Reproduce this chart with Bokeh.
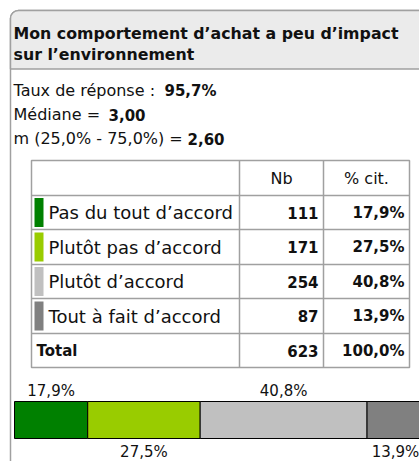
from bokeh.plotting import figure
from bokeh.models import Range1d, ColumnDataSource
from bokeh.core.properties import value
from bokeh.embed import file_html
from bokeh.resources import INLINE

# ---- data ----
title_lines = ["Mon comportement d\u2019achat a peu d\u2019impact", "sur l\u2019environnement"]
stats_labels = ["Taux de r\u00e9ponse :", "M\u00e9diane =", "m (25,0% - 75,0%) ="]
stats_values = ["95,7%", "3,00", "2,60"]
categories = ["Pas du tout d\u2019accord", "Plut\u00f4t pas d\u2019accord", "Plut\u00f4t d\u2019accord", "Tout \u00e0 fait d\u2019accord"]
counts = [111, 171, 254, 87]
percents = [17.9, 27.5, 40.8, 13.9]
colors = ["#008000", "#99cc00", "#c0c0c0", "#808080"]
total_count = 623
total_pct = 100.0
header = ["Nb", "% cit."]

FONT = "DejaVu Sans"
W, H = 419, 461
TXT = "#111111"

def fr(x, d=1):
    return f"{x:.{d}f}".replace(".", ",")

p = figure(width=W, height=H, output_backend="svg", toolbar_location=None,
           x_range=Range1d(0, W), y_range=Range1d(H, 0),
           min_border=0, outline_line_color=None, border_fill_color="white")
p.axis.visible = False
p.grid.visible = False

# percent scale for the stacked bar: 0% -> x=14, 100% -> x=423
px_per_pct = 4.09
p.extra_x_ranges = {"pct": Range1d(-14 / px_per_pct, (W - 14) / px_per_pct)}

# outer box
p.quad(left=10, right=450, top=10, bottom=475, fill_color="white",
       line_color="#a0a0a0", line_width=1.5, border_radius=8)
# title band
p.quad(left=10, right=450, top=10, bottom=68.5, fill_color="#ebebeb",
       line_color="#a0a0a0", line_width=1.5, border_radius=(8, 8, 0, 0))

# title
p.text(x=[13, 13], y=[33, 54], text=title_lines, text_font=value(FONT),
       text_font_style="bold", text_font_size="15.8px", text_baseline="middle",
       text_color="#111111")

# stats
ys = [90, 114, 138]
p.text(x=[13] * 3, y=ys, text=stats_labels, text_font=value(FONT),
       text_font_size="16px", text_baseline="middle", text_color=TXT)
val_x = [164, 108, 187]
p.text(x=val_x, y=ys, text=stats_values, text_font=value(FONT),
       text_font_style="bold", text_font_size="15px", text_baseline="middle",
       text_color=TXT)

# table
col_x = [31, 239, 323, 409]
row_y = [160, 195, 229, 264, 298, 333, 367]
grid = "#a0a0a0"
p.quad(left=col_x[0], right=col_x[-1], top=row_y[0], bottom=row_y[-1],
       fill_color="white", line_color=grid, line_width=1.5)
p.segment(x0=[col_x[0]] * 5, x1=[col_x[-1]] * 5, y0=row_y[1:6], y1=row_y[1:6],
          line_color=grid, line_width=1.5)
p.segment(x0=col_x[1:3], x1=col_x[1:3], y0=[row_y[0]] * 2, y1=[row_y[-1]] * 2,
          line_color=grid, line_width=1.5)

centers = [(row_y[i] + row_y[i + 1]) / 2 for i in range(6)]
p.text(x=[(col_x[1] + col_x[2]) / 2, (col_x[2] + col_x[3]) / 2], y=[centers[0]] * 2,
       text=header, text_font=value(FONT), text_font_size="16px",
       text_align="center", text_baseline="middle", text_color=TXT)

rc = centers[1:5]
p.quad(left=[34] * 4, right=[43] * 4, top=[c - 14.5 for c in rc], bottom=[c + 14.5 for c in rc],
       fill_color=colors, line_color=None)
p.text(x=[48] * 4, y=rc, text=categories, text_font=value(FONT), text_font_size="18px",
       text_baseline="middle", text_color=TXT)
p.text(x=[318] * 4, y=rc, text=[str(c) for c in counts], text_font=value(FONT),
       text_font_style="bold", text_font_size="15px", text_align="right",
       text_baseline="middle", text_color=TXT)
p.text(x=[404] * 4, y=rc, text=[fr(v) + "%" for v in percents], text_font=value(FONT),
       text_font_style="bold", text_font_size="15px", text_align="right",
       text_baseline="middle", text_color=TXT)
p.text(x=[36], y=[centers[5]], text=["Total"], text_font=value(FONT),
       text_font_style="bold", text_font_size="15px", text_baseline="middle", text_color=TXT)
p.text(x=[318, 404], y=[centers[5]] * 2, text=[str(total_count), fr(total_pct) + "%"],
       text_font=value(FONT), text_font_style="bold", text_font_size="15px",
       text_align="right", text_baseline="middle", text_color=TXT)

# stacked bar
lefts, rights = [], []
acc = 0.0
for v in percents:
    lefts.append(acc)
    acc += v
    rights.append(acc)
src = ColumnDataSource(dict(left=lefts, right=rights, color=colors,
                            mid=[(l + r) / 2 for l, r in zip(lefts, rights)],
                            lab=[fr(v) + "%" for v in percents],
                            ly=[390, 451, 390, 451]))
p.quad(left="left", right="right", top=401, bottom=438, fill_color="color",
       line_color="black", line_width=1, source=src, x_range_name="pct")
p.text(x="mid", y="ly", text="lab", source=src, x_range_name="pct",
       text_font=value(FONT), text_font_size="15px", text_align="center",
       text_baseline="middle", text_color=TXT)

open("out.html", "w").write(file_html(p, INLINE))
